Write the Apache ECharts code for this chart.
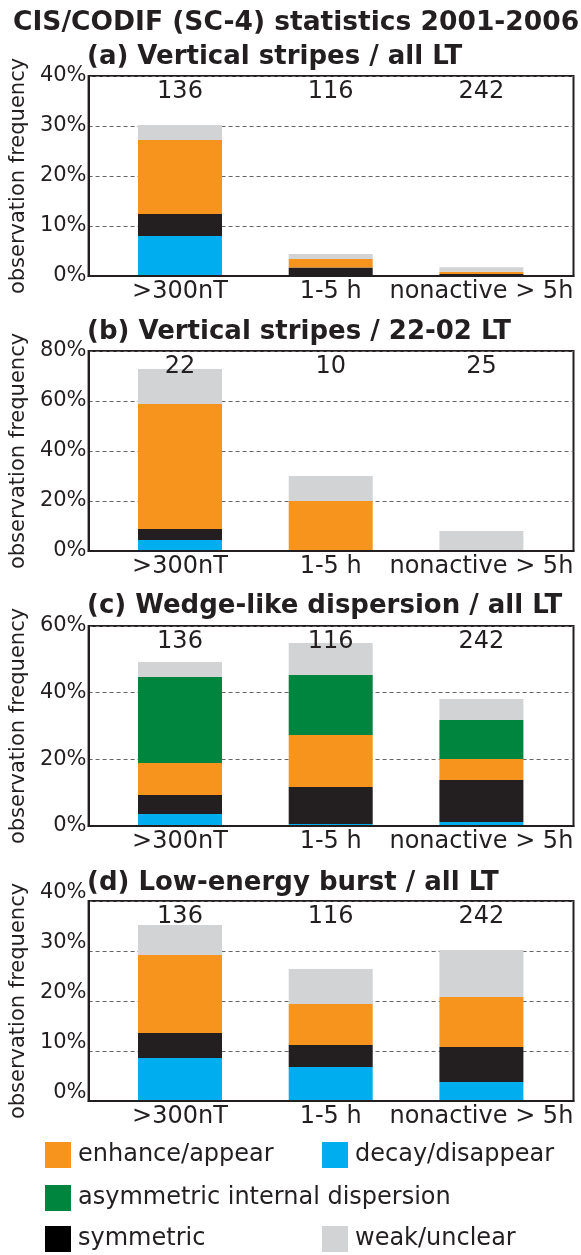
<!DOCTYPE html>
<html>
<head>
<meta charset="utf-8">
<script src="https://cdn.jsdelivr.net/npm/echarts@6/dist/echarts.min.js"></script>
<style>
html,body{margin:0;padding:0;background:#fff;}
#chart{width:581px;height:1255px;}
</style>
</head>
<body>
<div id="chart"></div>
<script>
// ---- data ----
const categories = ['>300nT', '1-5 h', 'nonactive > 5h'];
const seriesNames = ['decay/disappear', 'symmetric', 'enhance/appear', 'asymmetric internal dispersion', 'weak/unclear'];
const seriesColors = ['#00AEEF', '#231F20', '#F7941D', '#00853F', '#D1D3D4'];

const mainTitle = 'CIS/CODIF (SC-4) statistics 2001-2006';
const panelTitles = ['(a) Vertical stripes / all LT', '(b) Vertical stripes / 22-02 LT', '(c) Wedge-like dispersion / all LT', '(d) Low-energy burst / all LT'];

const countsA = [136, 116, 242];
const countsB = [22, 10, 25];
const countsC = [136, 116, 242];
const countsD = [136, 116, 242];

const yTicksA = [0, 10, 20, 30, 40];
const yTicksB = [0, 20, 40, 60, 80];
const yTicksC = [0, 20, 40, 60];
const yTicksD = [0, 10, 20, 30, 40];

// values in % : decay, symmetric, enhance, asymmetric, weak
const aDecay = [8.0, 0, 0];
const aSym   = [4.4, 1.7, 0.4];
const aEnh   = [14.8, 1.7, 0.45];
const aAsym  = [0, 0, 0];
const aWeak  = [3.0, 1.0, 0.9];

const bDecay = [4.4, 0, 0];
const bSym   = [4.4, 0, 0];
const bEnh   = [50.0, 20.0, 0];
const bAsym  = [0, 0, 0];
const bWeak  = [14.0, 10.0, 8.0];

const cDecay = [3.6, 0.6, 1.2];
const cSym   = [5.7, 11.1, 12.6];
const cEnh   = [9.6, 15.6, 6.3];
const cAsym  = [25.8, 18.0, 11.7];
const cWeak  = [4.5, 9.6, 6.3];

const dDecay = [8.6, 6.8, 3.8];
const dSym   = [5.0, 4.4, 7.0];
const dEnh   = [15.6, 8.2, 10.0];
const dAsym  = [0, 0, 0];
const dWeak  = [6.0, 7.0, 9.4];

// ---- build ----
const FONT = 'DejaVu Sans';
const INK = '#231F20';
const panels = [
  {vals: [aDecay, aSym, aEnh, aAsym, aWeak], counts: countsA, ticks: yTicksA, top: 76,  titleTop: 44,  raise: 0,  countZ: 5},
  {vals: [bDecay, bSym, bEnh, bAsym, bWeak], counts: countsB, ticks: yTicksB, top: 351, titleTop: 319, raise: 0,  countZ: 5},
  {vals: [cDecay, cSym, cEnh, cAsym, cWeak], counts: countsC, ticks: yTicksC, top: 626, titleTop: 593, raise: 0,  countZ: 5},
  {vals: [dDecay, dSym, dEnh, dAsym, dWeak], counts: countsD, ticks: yTicksD, top: 901, titleTop: 870, raise: 16, countZ: 1}
];

// frame: outer box 87..573.5 ; category band 150.7 px, first centre 180
const BOX_LEFT = 87, BOX_RIGHT = 7.5, BAND = 150.7, FIRST_CENTRE = 180;
const innerLeft = FIRST_CENTRE - BAND / 2;
const innerWidth = BAND * categories.length;

const grids = [], xAxes = [], yAxes = [], series = [];
const titles = [{
  text: mainTitle, left: 13, top: 10, padding: 0,
  textStyle: {fontFamily: FONT, fontSize: 26.5, fontWeight: 'bold', color: INK}
}];

panels.forEach((p, i) => {
  const yMin = p.ticks[0], yMax = p.ticks[p.ticks.length - 1];
  const outer = 2 * i, inner = 2 * i + 1;
  titles.push({
    text: panelTitles[i], left: 87, top: p.titleTop, padding: 0,
    textStyle: {fontFamily: FONT, fontSize: 26, fontWeight: 'bold', color: INK}
  });
  grids.push({left: BOX_LEFT, right: BOX_RIGHT, top: p.top, height: 200, show: true,
    borderColor: INK, borderWidth: 2, backgroundColor: 'transparent'});
  grids.push({left: innerLeft, width: innerWidth, top: p.top, height: 200, show: false});

  xAxes.push({
    type: 'value', gridIndex: outer, min: 0, max: 1, z: 6,
    axisLine: {show: true, onZero: false, lineStyle: {color: INK, width: 2}},
    axisTick: {show: false}, splitLine: {show: false}, axisLabel: {show: false}
  });
  xAxes.push({
    type: 'category', gridIndex: inner, data: categories,
    axisLine: {show: false}, axisTick: {show: false}, splitLine: {show: false},
    axisLabel: {fontFamily: FONT, fontSize: 24, color: INK, margin: 4, interval: 0}
  });
  const yLabel = {formatter: '{value}%', fontFamily: FONT, fontSize: 21, color: INK, margin: 2};
  if (p.raise) { yLabel.verticalAlign = 'bottom'; yLabel.lineHeight = p.raise; }
  yAxes.push({
    type: 'value', gridIndex: outer, min: yMin, max: yMax, interval: p.ticks[1] - p.ticks[0],
    name: 'observation frequency', nameLocation: 'middle', nameGap: 57,
    nameTextStyle: {fontFamily: FONT, fontSize: 21, color: INK},
    axisLine: {show: true, lineStyle: {color: INK, width: 2}},
    axisTick: {show: false},
    axisLabel: yLabel,
    splitLine: {show: true, lineStyle: {color: '#666', type: [4, 3], width: 1.2}}
  });
  yAxes.push({
    type: 'value', gridIndex: inner, min: yMin, max: yMax, interval: p.ticks[1] - p.ticks[0],
    axisLine: {show: false}, axisTick: {show: false}, axisLabel: {show: false}, splitLine: {show: false}
  });
  p.vals.forEach((arr, k) => {
    series.push({
      type: 'bar', name: seriesNames[k], xAxisIndex: inner, yAxisIndex: inner,
      stack: 'panel' + i, barWidth: 84, z: 2,
      itemStyle: {color: seriesColors[k]},
      data: arr
    });
  });
  series.push({
    type: 'scatter', xAxisIndex: inner, yAxisIndex: inner, symbolSize: 0, silent: true, z: p.countZ,
    itemStyle: {opacity: 1},
    data: p.counts.map((c, j) => [j, yMax, c]),
    label: {show: true, position: 'inside', offset: [0, 16], formatter: d => String(d.value[2]),
      fontFamily: FONT, fontSize: 24, color: INK, opacity: 1}
  });
});

const legendPos = [
  {name: 'enhance/appear', left: 45, top: 1142},
  {name: 'decay/disappear', left: 322, top: 1142},
  {name: 'asymmetric internal dispersion', left: 45, top: 1185},
  {name: 'symmetric', left: 45, top: 1226, color: '#000'},
  {name: 'weak/unclear', left: 322, top: 1226}
];
const legends = legendPos.map(l => ({
  left: l.left, top: l.top, padding: 0, selectedMode: false, icon: 'rect',
  itemWidth: 26, itemHeight: 26, itemGap: 0,
  textStyle: {fontFamily: FONT, fontSize: 24, color: INK, padding: [0, 0, 0, 2]},
  data: [l.color ? {name: l.name, itemStyle: {color: l.color}} : l.name]
}));

const chart = echarts.init(document.getElementById('chart'), null, {renderer: 'canvas'});
chart.setOption({
  animation: false,
  backgroundColor: '#fff',
  title: titles,
  legend: legends,
  grid: grids,
  xAxis: xAxes,
  yAxis: yAxes,
  series: series
});
</script>
</body>
</html>
